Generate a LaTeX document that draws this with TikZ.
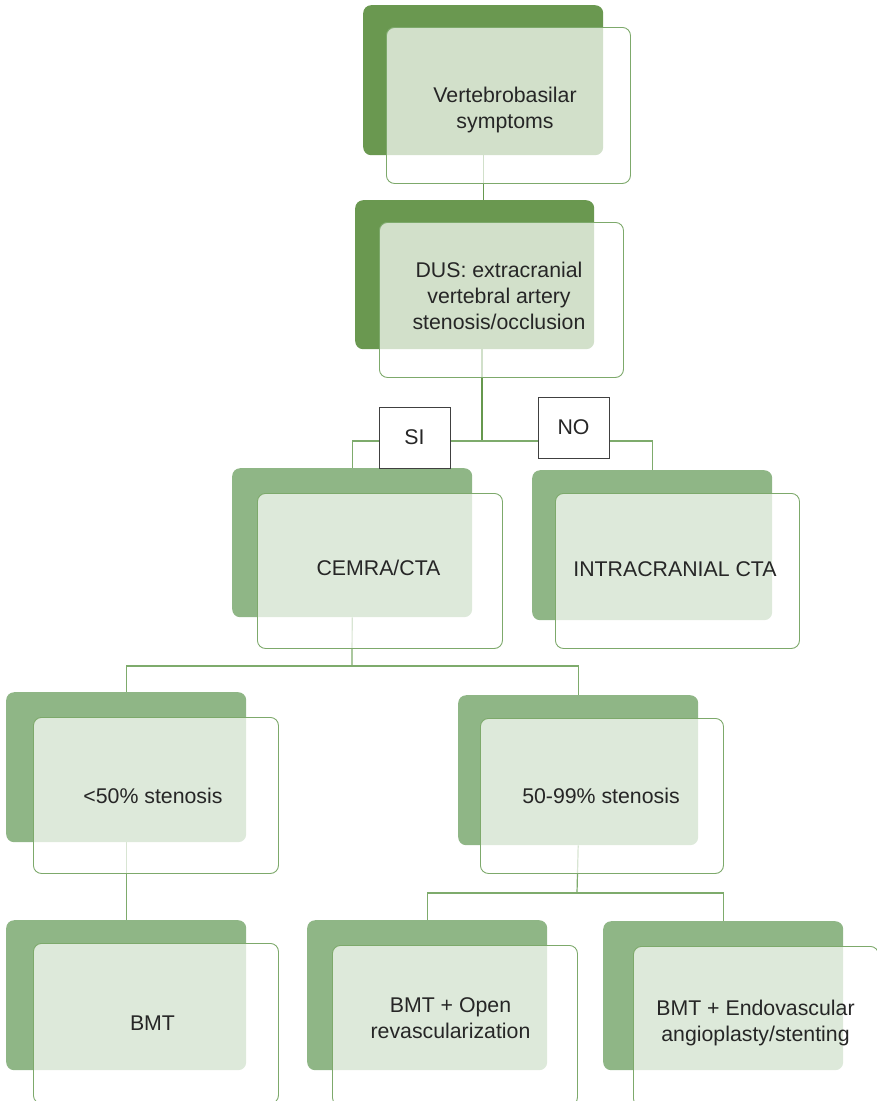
\documentclass[tikz,border=0pt]{standalone}
\usepackage{fontspec}
\setmainfont{Liberation Sans}
\definecolor{dkgreen}{HTML}{6A9850}
\definecolor{mdgreen}{HTML}{8FB686}
\definecolor{edgegreen}{HTML}{7DA96B}
\definecolor{wiredark}{HTML}{66984E}
\definecolor{wirelight}{HTML}{7EAB6C}
\pgfdeclarelayer{wires}
\pgfsetlayers{wires,main}
\begin{document}
\begin{tikzpicture}[x=1pt,y=-1pt,
  back/.style={rounded corners=8pt, anchor=north west, inner sep=0pt,
    minimum width=240pt, minimum height=150pt},
  darkback/.style={back, fill=dkgreen},
  lightback/.style={back, fill=mdgreen},
  front/.style={draw=edgegreen, line width=0.9pt, fill=white, fill opacity=0.7,
    rounded corners=8pt, anchor=north west, inner sep=0pt,
    minimum width=245pt, minimum height=156pt},
  txt/.style={text=black!85, align=center, inner sep=0pt,
    font=\fontsize{21.3}{26}\selectfont},
  lbl/.style={draw=black!75, line width=1pt, fill=white, inner sep=0pt,
    minimum width=71pt, minimum height=61pt, text=black!85,
    font=\fontsize{21.3}{26}\selectfont},
  wire/.style={line width=1.2pt}
]
\useasboundingbox (0,0) rectangle (876,1101);

% level 1
\node[darkback] (b1) at (363,5) {};
\node[front, minimum width=244pt] (f1) at (386,27) {};
\node[txt] (t1) at (505,110) {Vertebrobasilar\\symptoms};
% level 2
\node[darkback, minimum width=239pt, minimum height=149pt] (b2) at (355,200) {};
\node[front, minimum width=244pt, minimum height=155pt] (f2) at (379,222) {};
\node[txt] (t2) at (499,296) {DUS: extracranial\\vertebral artery\\stenosis/occlusion};
% level 3
\node[lightback, minimum height=149pt] (b3) at (232,468) {};
\node[front, minimum height=155pt] (f3) at (257,493) {};
\node[txt] (t3) at (378.5,568) {CEMRA/CTA};
\node[lightback] (b4) at (532,470) {};
\node[front, minimum width=244pt, minimum height=155pt] (f4) at (555,493) {};
\node[txt] (t4) at (675,569) {INTRACRANIAL CTA};
% level 4
\node[lightback] (b5) at (6,692) {};
\node[front] (f5) at (33,717) {};
\node[txt] (t5) at (153,796) {<50\% stenosis};
\node[lightback] (b6) at (458,695) {};
\node[front, minimum width=243pt, minimum height=155pt] (f6) at (480,718) {};
\node[txt] (t6) at (601,796) {50-99\% stenosis};
% level 5
\node[lightback] (b7) at (6,920) {};
\node[front, minimum height=160pt] (f7) at (33,943) {};
\node[txt] (t7) at (152.5,1023) {BMT};
\node[lightback] (b8) at (307,920) {};
\node[front, minimum height=160pt] (f8) at (332,945) {};
\node[txt] (t8) at (450.5,1018) {BMT + Open\\revascularization};
\node[lightback, minimum height=149pt] (b9) at (603,921) {};
\node[front, minimum height=160pt] (f9) at (633,946) {};
\node[txt] (t9) at (755.5,1023) {BMT + Endovascular\\angioplasty/stenting};

% branch points
\coordinate (j2) at (482,441);
\coordinate (j3) at (352,666);
\coordinate (j4) at (577,893);

% yes / no labels
\node[lbl] (si) at (414.5,437.5) {SI};
\node[lbl] (no) at (573.5,427.5) {NO};

\begin{pgfonlayer}{wires}
  \draw[wire, wiredark] (b1.south) -- (b1.south |- b2.north);
  \draw[wire, wiredark] (b2.south -| j2) -- (j2);
  \draw[wire, wirelight] (b3.north) |- (j2) -| (b4.north);
  \draw[wire, wirelight] (b3.south) -- (j3);
  \draw[wire, wirelight] (b5.north) |- (j3) -| (b6.north);
  \draw[wire, wirelight] (b5.south) -- (b7.north);
  \draw[wire, wirelight] (b6.south) -- (j4);
  \draw[wire, wirelight] (b8.north) |- (j4) -| (b9.north);
\end{pgfonlayer}
\end{tikzpicture}
\end{document}
